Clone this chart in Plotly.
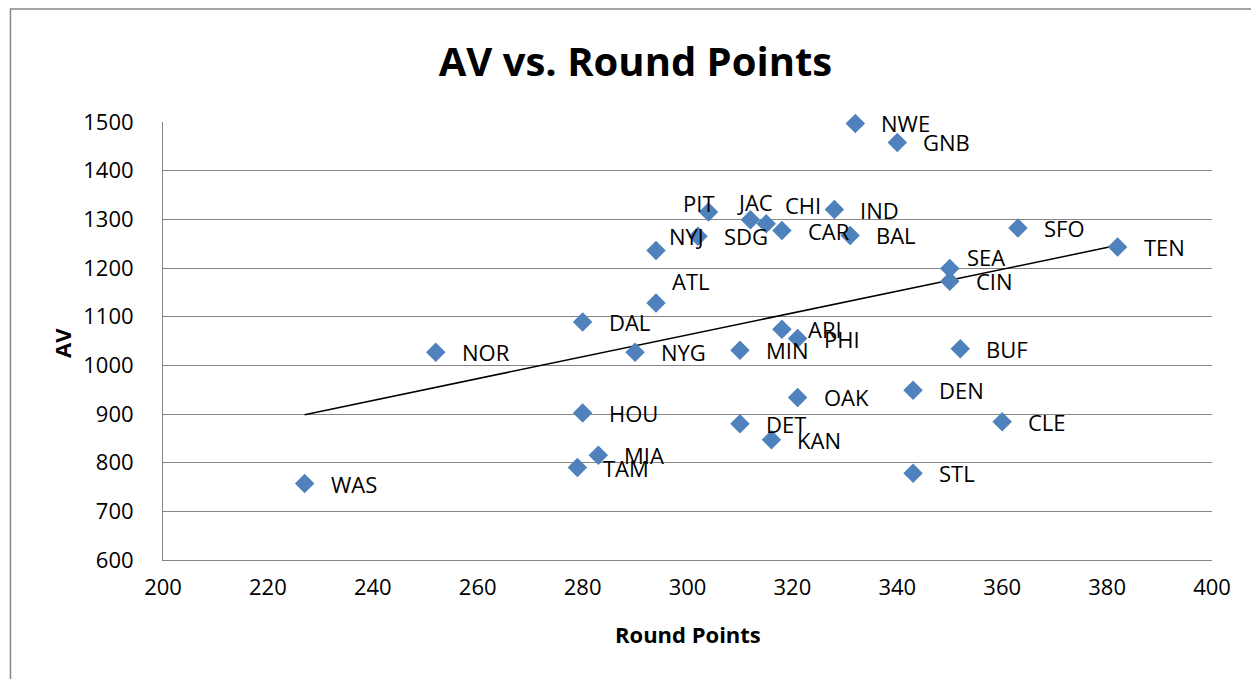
import numpy as np
import plotly.graph_objects as go

# ---- data ----
teams = ["WAS", "NOR", "DAL", "HOU", "TAM", "MIA", "NYG", "ATL", "NYJ", "SDG",
         "PIT", "JAC", "CHI", "CAR", "IND", "BAL", "NWE", "GNB", "SFO", "TEN",
         "SEA", "CIN", "ARI", "PHI", "MIN", "OAK", "DET", "KAN", "DEN", "BUF",
         "CLE", "STL"]
round_points = [227, 252, 280, 280, 279, 283, 290, 294, 294, 302,
                304, 312, 315, 318, 328, 331, 332, 340, 363, 382,
                350, 350, 318, 321, 310, 321, 310, 316, 343, 352,
                360, 343]
av = [757, 1027, 1089, 902, 790, 815, 1027, 1128, 1236, 1265,
      1315, 1299, 1291, 1277, 1320, 1267, 1497, 1458, 1282, 1243,
      1199, 1173, 1074, 1055, 1031, 934, 880, 847, 949, 1034,
      884, 778]
x_ticks = [200, 220, 240, 260, 280, 300, 320, 340, 360, 380, 400]
y_ticks = [600, 700, 800, 900, 1000, 1100, 1200, 1300, 1400, 1500]

# ---- label placement (pixel nudges for crowded labels) ----
DEFAULT_SHIFT = (24, 0)
LABEL_SHIFT = {
    "ATL": (14, 22),
    "NYJ": (11, 14),
    "PIT": (-27, 9),
    "JAC": (-15, 18),
    "CHI": (17, 19),
    "SEA": (15, 11),
}

FONT = "Open Sans"
BLUE = "#4F81BD"
GRID = "#868686"

W, H = 1251, 671  # page body has an 8px margin

x_arr = np.array(round_points, dtype=float)
y_arr = np.array(av, dtype=float)
slope, intercept = np.polyfit(x_arr, y_arr, 1)
trend_x = [x_arr.min(), x_arr.max()]
trend_y = [slope * v + intercept for v in trend_x]

fig = go.Figure()
fig.add_trace(go.Scatter(
    x=trend_x, y=trend_y, mode="lines",
    line=dict(color="black", width=1.5), showlegend=False, hoverinfo="skip",
))
fig.add_trace(go.Scatter(
    x=round_points, y=av, mode="markers", cliponaxis=False,
    marker=dict(symbol="diamond", size=15, color=BLUE, line=dict(width=0)),
    showlegend=False, hoverinfo="text", text=teams,
))

annotations = []
for t, xv, yv in zip(teams, round_points, av):
    dx, dy = LABEL_SHIFT.get(t, DEFAULT_SHIFT)
    annotations.append(dict(
        x=xv, y=yv, xref="x", yref="y", text=t, showarrow=False,
        xanchor="left", yanchor="middle", xshift=dx, yshift=dy,
        font=dict(family=FONT, size=22, color="black"),
    ))

annotations.append(dict(
    x=0.5005, y=-0.169, xref="paper", yref="paper", text="<b>Round Points</b>",
    showarrow=False, xanchor="center", yanchor="middle",
    font=dict(family=FONT, size=22, color="black"),
))
annotations.append(dict(
    x=-0.0963, y=0.4954, xref="paper", yref="paper", text="<b>AV</b>",
    showarrow=False, xanchor="center", yanchor="middle", textangle=-90,
    font=dict(family=FONT, size=22, color="black"),
))

fig.update_layout(
    width=W, height=H,
    margin=dict(l=155, r=47, t=114, b=119),
    paper_bgcolor="white", plot_bgcolor="white",
    title=dict(text="<b>AV vs. Round Points</b>", x=627.5 / W, xref="container",
               y=1 - 54 / H, yref="container", xanchor="center", yanchor="middle",
               font=dict(family=FONT, size=40, color="black")),
    annotations=annotations,
    shapes=[dict(type="rect", xref="paper", yref="paper",
                 x0=-0.1454, x1=1.06, y0=-0.31, y1=1.258,
                 line=dict(color=GRID, width=1.5), fillcolor="rgba(0,0,0,0)",
                 layer="below")],
    xaxis=dict(range=[200, 400], tickvals=x_ticks, ticktext=[str(v) for v in x_ticks],
               showgrid=False, zeroline=False, showline=True, linecolor=GRID,
               linewidth=1, ticks="", ticklabelstandoff=8,
               tickfont=dict(family=FONT, size=22, color="black")),
    yaxis=dict(range=[600, 1500], tickvals=y_ticks, ticktext=[str(v) for v in y_ticks],
               showgrid=True, gridcolor=GRID, gridwidth=1, zeroline=False,
               showline=True, linecolor=GRID, linewidth=1, ticks="",
               ticklabelstandoff=24,
               tickfont=dict(family=FONT, size=22, color="black")),
)

fig.write_html("out.html")
